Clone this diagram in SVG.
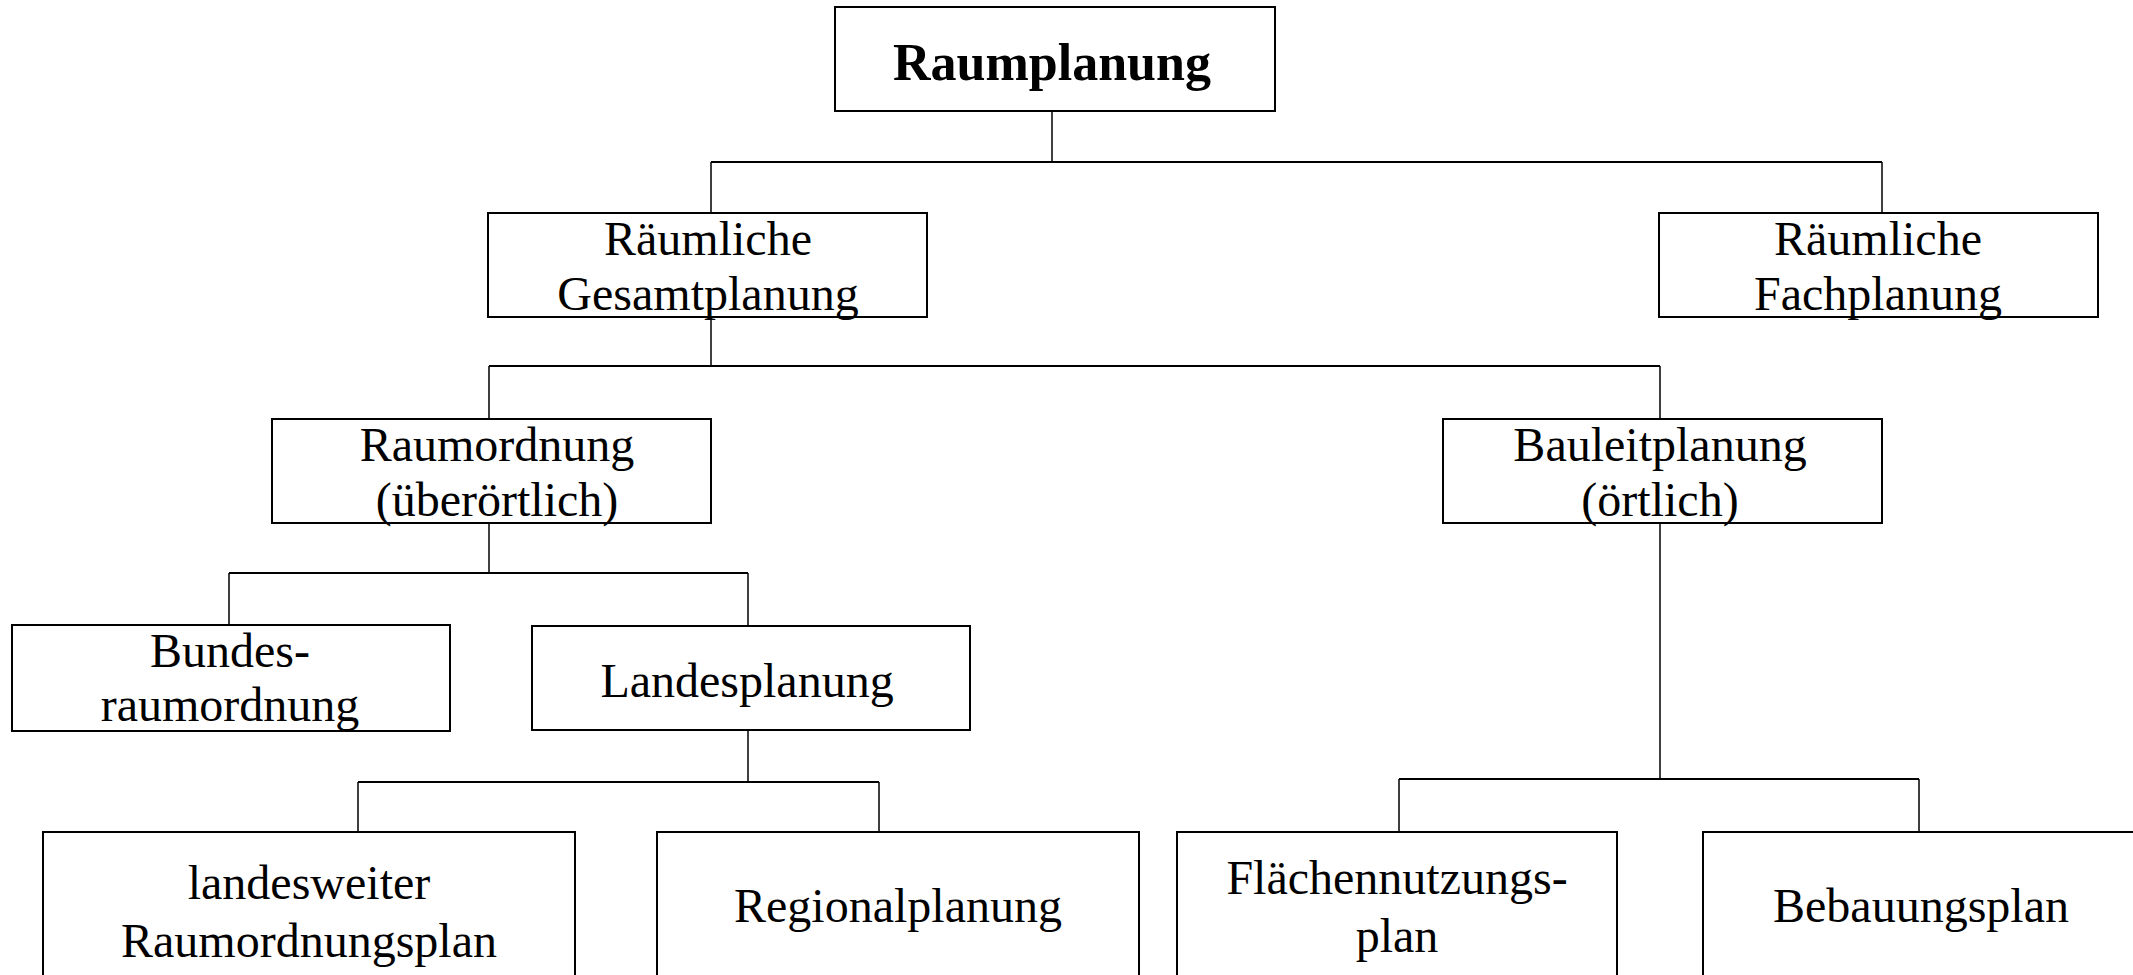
<svg xmlns="http://www.w3.org/2000/svg" width="2133" height="975" viewBox="0 0 2133 975">
<style>
.box{fill:#fff;stroke:#000;stroke-width:2}
.t{font-family:"Liberation Serif","Times New Roman",serif;font-size:48px;fill:#000;text-anchor:middle}
.b{font-weight:bold;font-size:52px}
.c{fill:none;stroke:#000;stroke-width:2}
.v{fill:none;stroke:#000;stroke-width:1.5}
</style>
<rect width="2133" height="975" fill="#fff"/>
<g id="connectors">
<path class="v" d="M1052 111V162"/>
<path class="c" d="M711 162H1882"/>
<path class="v" d="M711 162V213M1882 162V213"/>
<path class="v" d="M711 317V366"/>
<path class="c" d="M489 366H1660"/>
<path class="v" d="M489 366V419M1660 366V419"/>
<path class="v" d="M489 523V573"/>
<path class="c" d="M229 573H748"/>
<path class="v" d="M229 573V625M748 573V626"/>
<path class="v" d="M748 730V782"/>
<path class="c" d="M358 782H879"/>
<path class="v" d="M358 782V832M879 782V832"/>
<path class="v" d="M1660 523V779"/>
<path class="c" d="M1399 779H1919"/>
<path class="v" d="M1399 779V832M1919 779V832"/>
</g>
<g id="raumplanung">
<rect class="box" x="835" y="7" width="440" height="104"/>
<text class="t b" x="1052" y="80">Raumplanung</text>
</g>
<g id="gesamtplanung">
<rect class="box" x="488" y="213" width="439" height="104"/>
<text class="t" x="708" y="255">Räumliche</text>
<text class="t" x="708" y="310">Gesamtplanung</text>
</g>
<g id="fachplanung">
<rect class="box" x="1659" y="213" width="439" height="104"/>
<text class="t" x="1878" y="255">Räumliche</text>
<text class="t" x="1878" y="310">Fachplanung</text>
</g>
<g id="raumordnung">
<rect class="box" x="272" y="419" width="439" height="104"/>
<text class="t" x="497" y="461">Raumordnung</text>
<text class="t" x="497" y="516">(überörtlich)</text>
</g>
<g id="bauleitplanung">
<rect class="box" x="1443" y="419" width="439" height="104"/>
<text class="t" x="1660" y="461">Bauleitplanung</text>
<text class="t" x="1660" y="516">(örtlich)</text>
</g>
<g id="bundesraumordnung">
<rect class="box" x="12" y="625" width="438" height="106"/>
<text class="t" x="230" y="667">Bundes-</text>
<text class="t" x="230" y="721">raumordnung</text>
</g>
<g id="landesplanung">
<rect class="box" x="532" y="626" width="438" height="104"/>
<text class="t" x="747" y="697">Landesplanung</text>
</g>
<g id="landesweiter">
<rect class="box" x="43" y="832" width="532" height="160"/>
<text class="t" x="309" y="899">landesweiter</text>
<text class="t" x="309" y="957">Raumordnungsplan</text>
</g>
<g id="regionalplanung">
<rect class="box" x="657" y="832" width="482" height="160"/>
<text class="t" x="898" y="922">Regionalplanung</text>
</g>
<g id="flaechennutzungsplan">
<rect class="box" x="1177" y="832" width="440" height="160"/>
<text class="t" x="1397" y="894">Flächennutzungs-</text>
<text class="t" x="1397" y="952">plan</text>
</g>
<g id="bebauungsplan">
<rect class="box" x="1703" y="832" width="440" height="160"/>
<text class="t" x="1921" y="922">Bebauungsplan</text>
</g>
</svg>
